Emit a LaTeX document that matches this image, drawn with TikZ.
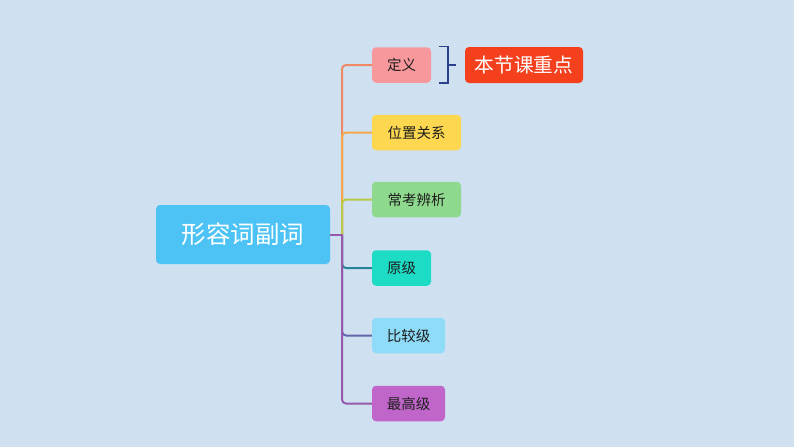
\documentclass[tikz,border=0pt]{standalone}
\usepackage{fontspec}
\setmainfont{Noto Sans CJK SC}
\definecolor{bg}{RGB}{207,224,241}
\definecolor{rootc}{RGB}{77,195,245}
\definecolor{c1}{RGB}{247,152,156}
\definecolor{c2}{RGB}{252,215,79}
\definecolor{c3}{RGB}{142,217,142}
\definecolor{c4}{RGB}{28,220,197}
\definecolor{c5}{RGB}{142,220,247}
\definecolor{c6}{RGB}{192,101,201}
\definecolor{keyc}{RGB}{245,64,30}
\definecolor{l1}{RGB}{238,137,100}
\definecolor{l2}{RGB}{245,168,75}
\definecolor{l3}{RGB}{185,200,70}
\definecolor{l4}{RGB}{40,130,150}
\definecolor{l5}{RGB}{100,100,170}
\definecolor{l6}{RGB}{150,90,170}
\definecolor{brc}{RGB}{43,63,140}
\definecolor{txt}{RGB}{30,30,30}
\tikzset{
  leaf/.style={rectangle, rounded corners=4pt, inner sep=0pt, minimum height=35.5pt, text=txt, font=\fontsize{14.5}{16}\selectfont},
  link/.style={line width=2pt, rounded corners=4pt},
}
\begin{document}
\begin{tikzpicture}[x=1pt,y=-1pt]
\fill[bg] (0,0) rectangle (794,447);
\useasboundingbox (0,0) rectangle (794,447);
\node[rectangle, rounded corners=4pt, fill=rootc, minimum width=174pt, minimum height=59pt, text=white, font=\fontsize{24.5}{28}\selectfont] (root) at (243,234.5) {形容词副词};
\coordinate (hub) at (342,234.5);
\node[leaf, fill=c1, minimum width=59pt] (n1) at (401.5,65) {定义};
\node[leaf, fill=c2, minimum width=89pt] (n2) at (416.5,132.5) {位置关系};
\node[leaf, fill=c3, minimum width=89pt] (n3) at (416.5,199.5) {常考辨析};
\node[leaf, fill=c4, minimum width=59pt] (n4) at (401.5,268) {原级};
\node[leaf, fill=c5, minimum width=73pt] (n5) at (408.5,335.5) {比较级};
\node[leaf, fill=c6, minimum width=73pt] (n6) at (408.5,403.5) {最高级};
\node[rectangle, rounded corners=4pt, fill=keyc, minimum width=118pt, minimum height=36pt, inner sep=0pt, text=white, font=\fontsize{19.7}{22}\selectfont] (key) at (524,65) {本节课重点};
% connectors
\draw[link, l1] (hub) |- (n1.west);
\draw[link, l2] (hub) |- (n2.west);
\draw[link, l3] (hub) |- (n3.west);
\draw[link, l4] (hub) |- (n4.west);
\draw[link, l5] (hub) |- (n5.west);
\draw[link, l6] (hub) |- (n6.west);
\draw[line width=2pt, l6] (root.east) -- (hub);
% bracket
\coordinate (bt) at (439,46.5);
\coordinate (bb) at (439,83);
\coordinate (bm) at (448,65);
\coordinate (bx) at (456,65);
\draw[brc, line width=1.5pt] (bt) -- (448,46.5) -- (448,83) -- (bb);
\draw[brc, line width=1.5pt] (bm) -- (bx);
\end{tikzpicture}
\end{document}
